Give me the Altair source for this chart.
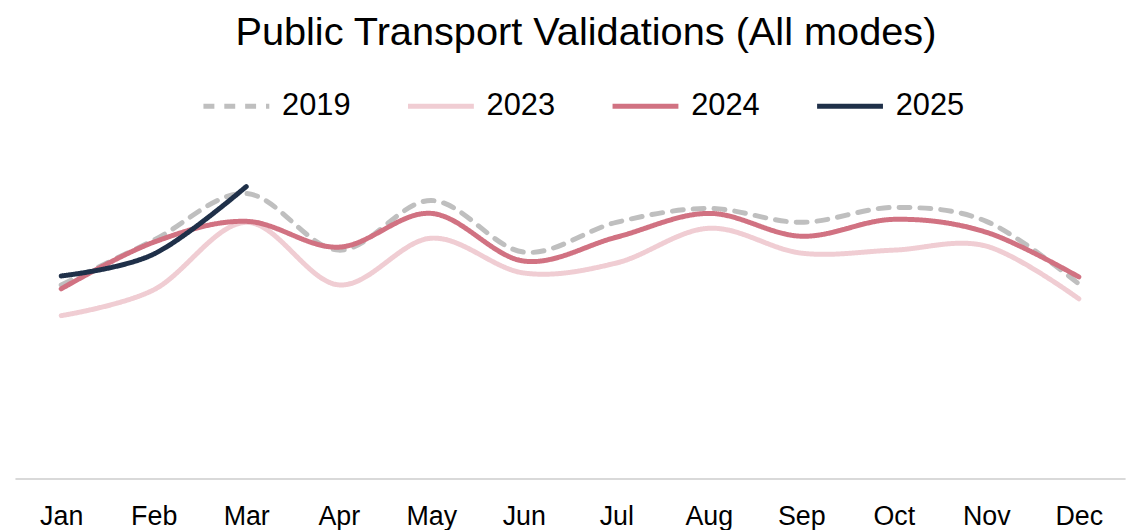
import altair as alt
import pandas as pd

months = ["Jan", "Feb", "Mar", "Apr", "May", "Jun", "Jul", "Aug", "Sep", "Oct", "Nov", "Dec"]
series = ["2019", "2023", "2024", "2025"]
v2019 = [19.5, 24.0, 28.7, 23.0, 28.0, 22.8, 25.8, 27.2, 25.8, 27.3, 25.9, 19.6]
v2023 = [16.4, 19.0, 25.8, 19.5, 24.2, 20.7, 21.7, 25.2, 22.7, 23.0, 23.4, 18.1]
v2024 = [19.1, 23.8, 25.9, 23.3, 26.7, 21.9, 24.3, 26.7, 24.4, 26.1, 24.8, 20.3]
v2025 = [20.4, 22.6, 29.4]
colors = ["#bfbfbf", "#f0cdd3", "#d17282", "#1f3049"]
dashes = [[11, 10], [1, 0], [1, 0], [1, 0]]

rows = []
for name, vals in zip(series, [v2019, v2023, v2024, v2025]):
    for m, v in zip(months, vals):
        rows.append({"month": m, "year": name, "value": v})
df = pd.DataFrame(rows)

font = "Liberation Sans"

chart = alt.Chart(df).mark_line(
    interpolate="cardinal", strokeWidth=5, strokeCap="round"
).encode(
    x=alt.X("month:O", sort=months, scale=alt.Scale(type="point", padding=0.5),
            axis=alt.Axis(title=None, labelAngle=0, ticks=False, domainColor="#d9d9d9",
                          domainWidth=2, labelFontSize=27, labelColor="#000000",
                          labelFont=font, labelPadding=25)),
    y=alt.Y("value:Q", scale=alt.Scale(domain=[0, 33.8]), axis=None),
    color=alt.Color("year:N", scale=alt.Scale(domain=series, range=colors),
                    legend=alt.Legend(title=None, orient="none", legendX=187, legendY=-73,
                                      direction="horizontal", symbolType="stroke",
                                      symbolSize=4400, symbolStrokeWidth=5,
                                      labelFontSize=31, labelFont=font, labelColor="#000000",
                                      columnPadding=47, labelOffset=10)),
    strokeDash=alt.StrokeDash("year:N", scale=alt.Scale(domain=series, range=dashes), legend=None),
    order=alt.Order("year:N"),
).properties(
    width=1118, height=338,
    title=alt.Title("Public Transport Validations (All modes)", fontSize=40, font=font,
                    fontWeight="normal", color="#000000", anchor="middle", offset=18, dx=16),
    autosize=alt.AutoSizeParams(type="none"),
    padding={"left": 7, "top": 134, "right": 12, "bottom": 50},
).configure_view(stroke=None)

chart.save("out.html", embed_options={"renderer": "svg", "actions": False})
